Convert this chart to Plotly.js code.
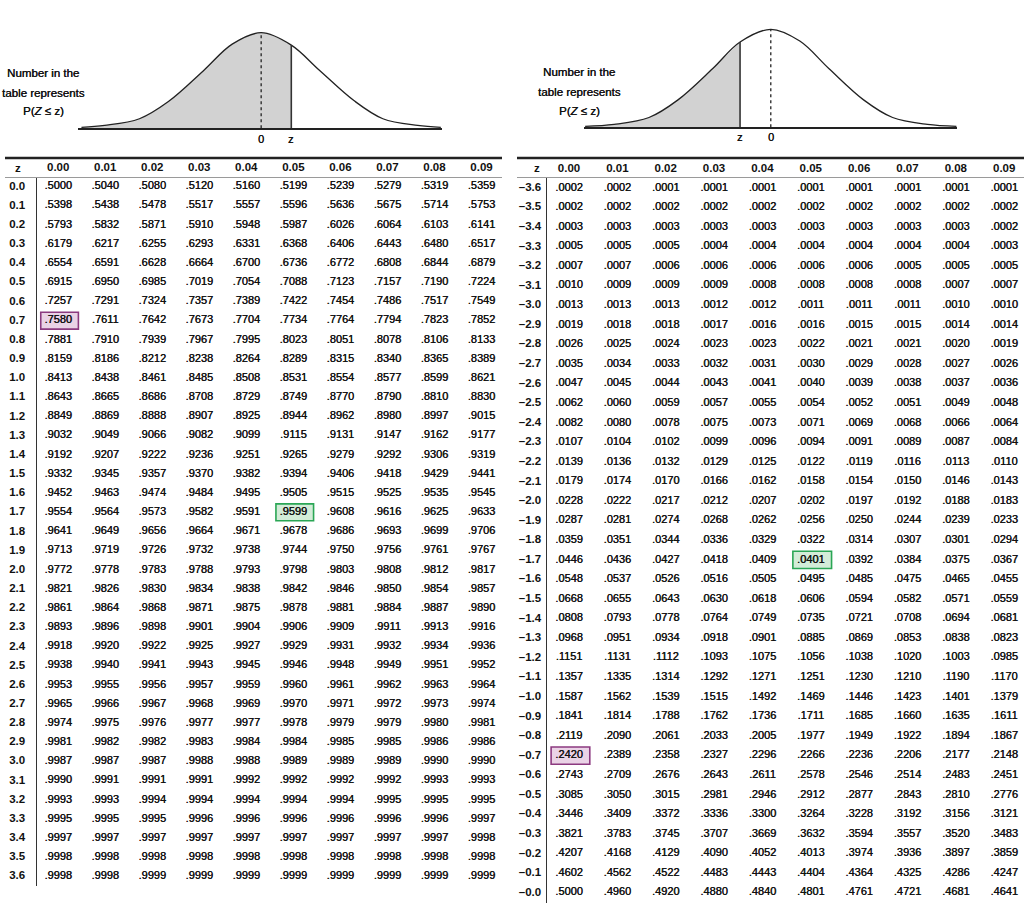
<!DOCTYPE html>
<html>
<head>
<meta charset="utf-8">
<script src="https://cdn.plot.ly/plotly-3.0.1.min.js"></script>
<style>html,body{margin:0;padding:0;background:#fff;}#chart{width:1024px;height:912px;}</style>
</head>
<body>
<div id="chart"></div>
<script>
// ---------- data ----------
const cols = ['0.00','0.01','0.02','0.03','0.04','0.05','0.06','0.07','0.08','0.09'];

const posRows = ['0.0','0.1','0.2','0.3','0.4','0.5','0.6','0.7','0.8','0.9',
  '1.0','1.1','1.2','1.3','1.4','1.5','1.6','1.7','1.8','1.9',
  '2.0','2.1','2.2','2.3','2.4','2.5','2.6','2.7','2.8','2.9',
  '3.0','3.1','3.2','3.3','3.4','3.5','3.6'];

const negRows = ['–3.6','–3.5','–3.4','–3.3','–3.2','–3.1','–3.0','–2.9','–2.8','–2.7',
  '–2.6','–2.5','–2.4','–2.3','–2.2','–2.1','–2.0','–1.9','–1.8','–1.7',
  '–1.6','–1.5','–1.4','–1.3','–1.2','–1.1','–1.0','–0.9','–0.8','–0.7',
  '–0.6','–0.5','–0.4','–0.3','–0.2','–0.1','–0.0'];

const posTable = [
  [.5000,.5040,.5080,.5120,.5160,.5199,.5239,.5279,.5319,.5359],
  [.5398,.5438,.5478,.5517,.5557,.5596,.5636,.5675,.5714,.5753],
  [.5793,.5832,.5871,.5910,.5948,.5987,.6026,.6064,.6103,.6141],
  [.6179,.6217,.6255,.6293,.6331,.6368,.6406,.6443,.6480,.6517],
  [.6554,.6591,.6628,.6664,.6700,.6736,.6772,.6808,.6844,.6879],
  [.6915,.6950,.6985,.7019,.7054,.7088,.7123,.7157,.7190,.7224],
  [.7257,.7291,.7324,.7357,.7389,.7422,.7454,.7486,.7517,.7549],
  [.7580,.7611,.7642,.7673,.7704,.7734,.7764,.7794,.7823,.7852],
  [.7881,.7910,.7939,.7967,.7995,.8023,.8051,.8078,.8106,.8133],
  [.8159,.8186,.8212,.8238,.8264,.8289,.8315,.8340,.8365,.8389],
  [.8413,.8438,.8461,.8485,.8508,.8531,.8554,.8577,.8599,.8621],
  [.8643,.8665,.8686,.8708,.8729,.8749,.8770,.8790,.8810,.8830],
  [.8849,.8869,.8888,.8907,.8925,.8944,.8962,.8980,.8997,.9015],
  [.9032,.9049,.9066,.9082,.9099,.9115,.9131,.9147,.9162,.9177],
  [.9192,.9207,.9222,.9236,.9251,.9265,.9279,.9292,.9306,.9319],
  [.9332,.9345,.9357,.9370,.9382,.9394,.9406,.9418,.9429,.9441],
  [.9452,.9463,.9474,.9484,.9495,.9505,.9515,.9525,.9535,.9545],
  [.9554,.9564,.9573,.9582,.9591,.9599,.9608,.9616,.9625,.9633],
  [.9641,.9649,.9656,.9664,.9671,.9678,.9686,.9693,.9699,.9706],
  [.9713,.9719,.9726,.9732,.9738,.9744,.9750,.9756,.9761,.9767],
  [.9772,.9778,.9783,.9788,.9793,.9798,.9803,.9808,.9812,.9817],
  [.9821,.9826,.9830,.9834,.9838,.9842,.9846,.9850,.9854,.9857],
  [.9861,.9864,.9868,.9871,.9875,.9878,.9881,.9884,.9887,.9890],
  [.9893,.9896,.9898,.9901,.9904,.9906,.9909,.9911,.9913,.9916],
  [.9918,.9920,.9922,.9925,.9927,.9929,.9931,.9932,.9934,.9936],
  [.9938,.9940,.9941,.9943,.9945,.9946,.9948,.9949,.9951,.9952],
  [.9953,.9955,.9956,.9957,.9959,.9960,.9961,.9962,.9963,.9964],
  [.9965,.9966,.9967,.9968,.9969,.9970,.9971,.9972,.9973,.9974],
  [.9974,.9975,.9976,.9977,.9977,.9978,.9979,.9979,.9980,.9981],
  [.9981,.9982,.9982,.9983,.9984,.9984,.9985,.9985,.9986,.9986],
  [.9987,.9987,.9987,.9988,.9988,.9989,.9989,.9989,.9990,.9990],
  [.9990,.9991,.9991,.9991,.9992,.9992,.9992,.9992,.9993,.9993],
  [.9993,.9993,.9994,.9994,.9994,.9994,.9994,.9995,.9995,.9995],
  [.9995,.9995,.9995,.9996,.9996,.9996,.9996,.9996,.9996,.9997],
  [.9997,.9997,.9997,.9997,.9997,.9997,.9997,.9997,.9997,.9998],
  [.9998,.9998,.9998,.9998,.9998,.9998,.9998,.9998,.9998,.9998],
  [.9998,.9998,.9999,.9999,.9999,.9999,.9999,.9999,.9999,.9999]
];

const negTable = [
  [.0002,.0002,.0001,.0001,.0001,.0001,.0001,.0001,.0001,.0001],
  [.0002,.0002,.0002,.0002,.0002,.0002,.0002,.0002,.0002,.0002],
  [.0003,.0003,.0003,.0003,.0003,.0003,.0003,.0003,.0003,.0002],
  [.0005,.0005,.0005,.0004,.0004,.0004,.0004,.0004,.0004,.0003],
  [.0007,.0007,.0006,.0006,.0006,.0006,.0006,.0005,.0005,.0005],
  [.0010,.0009,.0009,.0009,.0008,.0008,.0008,.0008,.0007,.0007],
  [.0013,.0013,.0013,.0012,.0012,.0011,.0011,.0011,.0010,.0010],
  [.0019,.0018,.0018,.0017,.0016,.0016,.0015,.0015,.0014,.0014],
  [.0026,.0025,.0024,.0023,.0023,.0022,.0021,.0021,.0020,.0019],
  [.0035,.0034,.0033,.0032,.0031,.0030,.0029,.0028,.0027,.0026],
  [.0047,.0045,.0044,.0043,.0041,.0040,.0039,.0038,.0037,.0036],
  [.0062,.0060,.0059,.0057,.0055,.0054,.0052,.0051,.0049,.0048],
  [.0082,.0080,.0078,.0075,.0073,.0071,.0069,.0068,.0066,.0064],
  [.0107,.0104,.0102,.0099,.0096,.0094,.0091,.0089,.0087,.0084],
  [.0139,.0136,.0132,.0129,.0125,.0122,.0119,.0116,.0113,.0110],
  [.0179,.0174,.0170,.0166,.0162,.0158,.0154,.0150,.0146,.0143],
  [.0228,.0222,.0217,.0212,.0207,.0202,.0197,.0192,.0188,.0183],
  [.0287,.0281,.0274,.0268,.0262,.0256,.0250,.0244,.0239,.0233],
  [.0359,.0351,.0344,.0336,.0329,.0322,.0314,.0307,.0301,.0294],
  [.0446,.0436,.0427,.0418,.0409,.0401,.0392,.0384,.0375,.0367],
  [.0548,.0537,.0526,.0516,.0505,.0495,.0485,.0475,.0465,.0455],
  [.0668,.0655,.0643,.0630,.0618,.0606,.0594,.0582,.0571,.0559],
  [.0808,.0793,.0778,.0764,.0749,.0735,.0721,.0708,.0694,.0681],
  [.0968,.0951,.0934,.0918,.0901,.0885,.0869,.0853,.0838,.0823],
  [.1151,.1131,.1112,.1093,.1075,.1056,.1038,.1020,.1003,.0985],
  [.1357,.1335,.1314,.1292,.1271,.1251,.1230,.1210,.1190,.1170],
  [.1587,.1562,.1539,.1515,.1492,.1469,.1446,.1423,.1401,.1379],
  [.1841,.1814,.1788,.1762,.1736,.1711,.1685,.1660,.1635,.1611],
  [.2119,.2090,.2061,.2033,.2005,.1977,.1949,.1922,.1894,.1867],
  [.2420,.2389,.2358,.2327,.2296,.2266,.2236,.2206,.2177,.2148],
  [.2743,.2709,.2676,.2643,.2611,.2578,.2546,.2514,.2483,.2451],
  [.3085,.3050,.3015,.2981,.2946,.2912,.2877,.2843,.2810,.2776],
  [.3446,.3409,.3372,.3336,.3300,.3264,.3228,.3192,.3156,.3121],
  [.3821,.3783,.3745,.3707,.3669,.3632,.3594,.3557,.3520,.3483],
  [.4207,.4168,.4129,.4090,.4052,.4013,.3974,.3936,.3897,.3859],
  [.4602,.4562,.4522,.4483,.4443,.4404,.4364,.4325,.4286,.4247],
  [.5000,.4960,.4920,.4880,.4840,.4801,.4761,.4721,.4681,.4641]
];

// highlighted cells
const highlights = [
  {table: 'pos', row: '0.7',  col: '0.00', kind: 'purple'},
  {table: 'pos', row: '1.7',  col: '0.05', kind: 'green'},
  {table: 'neg', row: '–1.7', col: '0.05', kind: 'green'},
  {table: 'neg', row: '–0.7', col: '0.00', kind: 'purple'}
];

// bell curves (z units, height relative to peak)
const curveLeftZ  = [-3.1, -2.7, -2.1, -1.6, -1.0, -0.5, 0, 0.52, 1.0, 1.6, 2.1, 2.7, 3.1];
const curveLeftH  = [0.01, 0.03, 0.10, 0.28, 0.60, 0.88, 1.0, 0.87, 0.61, 0.29, 0.10, 0.03, 0.01];
const zLeft = 0.52;
const curveRightZ = [-3.2, -2.7, -2.1, -1.6, -1.0, -0.53, 0, 0.5, 1.0, 1.6, 2.1, 2.7, 3.2];
const curveRightH = [0.01, 0.03, 0.10, 0.28, 0.60, 0.87, 1.0, 0.88, 0.60, 0.28, 0.10, 0.03, 0.01];
const zRight = -0.53;

// ---------- build ----------
const FONT = '"Liberation Sans", Arial, sans-serif';
const INK = '#111111';
const HEAVY = '0.35px 0 0 #111111';
const fmt = v => v.toFixed(4).replace(/^0/, '');

function cellTrace(rows, table, xa, ya) {
  const x = [], y = [], t = [];
  rows.forEach((r, i) => cols.forEach((c, j) => { x.push(c); y.push(r); t.push(fmt(table[i][j])); }));
  return {type: 'scatter', mode: 'text', x, y, text: t, xaxis: xa, yaxis: ya,
    textposition: 'middle center', cliponaxis: false, hoverinfo: 'skip', showlegend: false,
    textfont: {family: FONT, size: 11, color: INK, shadow: HEAVY}};
}

function curveTraces(zs, hs, zc, xa, ya) {
  const shadeX = [], shadeY = [];
  zs.forEach((z, i) => { if (z <= zc + 1e-9) { shadeX.push(z); shadeY.push(hs[i]); } });
  const hc = hs[zs.indexOf(zc)];
  return [
    {type: 'scatter', mode: 'lines', x: shadeX, y: shadeY, xaxis: xa, yaxis: ya, fill: 'tozeroy',
      fillcolor: '#d2d2d2', line: {width: 0, shape: 'spline', smoothing: 1}, hoverinfo: 'skip', showlegend: false},
    {type: 'scatter', mode: 'lines', x: zs, y: hs, xaxis: xa, yaxis: ya, cliponaxis: false,
      line: {color: '#222', width: 1.3, shape: 'spline', smoothing: 1}, hoverinfo: 'skip', showlegend: false},
    {type: 'scatter', mode: 'lines', x: [0, 0], y: [0, 1], xaxis: xa, yaxis: ya, cliponaxis: false,
      line: {color: '#222', width: 1.3, dash: '3px,3px'}, hoverinfo: 'skip', showlegend: false},
    {type: 'scatter', mode: 'lines', x: [zc, zc], y: [0, hc], xaxis: xa, yaxis: ya, cliponaxis: false,
      line: {color: '#333', width: 1.6}, hoverinfo: 'skip', showlegend: false}
  ];
}

const data = [
  cellTrace(posRows, posTable, 'x', 'y'),
  cellTrace(negRows, negTable, 'x2', 'y2'),
  ...curveTraces(curveLeftZ, curveLeftH, zLeft, 'x3', 'y3'),
  ...curveTraces(curveRightZ, curveRightH, zRight, 'x4', 'y4')
];

const W = 1024, H = 912;
const px = v => v / W, py = v => 1 - v / H;

const tableX = (dom, range) => ({type: 'category', categoryarray: cols, categoryorder: 'array',
  domain: dom, range: range, side: 'top', showgrid: false, zeroline: false, showline: false,
  ticks: '', fixedrange: true, ticklabelstandoff: 3,
  tickfont: {family: FONT, size: 11.5, color: INK, weight: 'bold'}});
const tableY = (rows, dom, standoff) => ({type: 'category', categoryarray: rows, categoryorder: 'array',
  domain: dom, range: [rows.length - 0.5, -0.5], showgrid: false, zeroline: false,
  showline: true, linecolor: '#333', linewidth: 1.5, ticks: '', ticklabelstandoff: standoff,
  ticklabelshift: 1,
  fixedrange: true, tickfont: {family: FONT, size: 11.5, color: INK, weight: 'bold'}});
const curveX = (dom, range) => ({domain: dom, range: range, showgrid: false, zeroline: false,
  showline: true, linecolor: '#222', linewidth: 1.3, showticklabels: false, ticks: '', fixedrange: true});
const curveY = (dom) => ({domain: dom, range: [0, 1.05], visible: false, fixedrange: true});

const shapes = [];
// header rules
[[5, 502], [517, 1024]].forEach(([a, b]) => {
  shapes.push({type: 'line', xref: 'paper', yref: 'paper', x0: px(a), x1: px(b), y0: py(158), y1: py(158),
    line: {color: '#222', width: 2.5}});
  shapes.push({type: 'line', xref: 'paper', yref: 'paper', x0: px(a), x1: px(b), y0: py(177.5), y1: py(177.5),
    line: {color: '#9a9a9a', width: 1}});
});
// highlight boxes
const hlStyle = {purple: {fill: '#ead3e6', line: '#8c3a80'}, green: {fill: '#d3ecd8', line: '#2aa655'}};
highlights.forEach(h => {
  const rows = h.table === 'pos' ? posRows : negRows;
  const ci = cols.indexOf(h.col), ri = rows.indexOf(h.row);
  const st = hlStyle[h.kind];
  shapes.push({type: 'rect', layer: 'below', xref: h.table === 'pos' ? 'x' : 'x2', yref: h.table === 'pos' ? 'y' : 'y2',
    x0: ci - 0.37, x1: ci + 0.43, y0: ri - 0.44, y1: ri + 0.44,
    fillcolor: st.fill, line: {color: st.line, width: 1.6}});
});

const annFont = {family: FONT, size: 11.5, color: INK, shadow: HEAVY};
const annotations = [];
const addNote = (cx, ys) => {
  const lines = ['Number in the', 'table represents', 'P(<i>Z</i> ≤ z)'];
  lines.forEach((t, i) => annotations.push({xref: 'paper', yref: 'paper', x: px(cx), y: py(ys[i]),
    text: t, showarrow: false, xanchor: 'center', yanchor: 'middle', font: annFont}));
};
addNote(43, [73, 93, 111]);
addNote(579, [72, 92, 111]);
// curve labels
[['x3', 0, '0', 139], ['x3', zLeft, 'z', 139], ['x4', 0, '0', 137], ['x4', zRight, 'z', 137]].forEach(([xr, x, t, y]) =>
  annotations.push({xref: xr, yref: 'paper', x: x, y: py(y), text: t, showarrow: false,
    xanchor: 'center', yanchor: 'middle', font: {family: FONT, size: 11, color: INK, shadow: HEAVY}}));
// header "z"
[[18, 168], [537, 168]].forEach(([x, y]) => annotations.push({xref: 'paper', yref: 'paper', x: px(x), y: py(y),
  text: '<b>z</b>', showarrow: false, xanchor: 'center', yanchor: 'middle', font: {family: FONT, size: 11.5, color: INK}}));

const layout = {
  width: W, height: H, margin: {l: 0, r: 0, t: 0, b: 0},
  paper_bgcolor: '#fff', plot_bgcolor: 'rgba(0,0,0,0)', showlegend: false,
  font: {family: FONT, color: INK},
  xaxis:  Object.assign(tableX([px(37), px(505)], [-0.45, 9.5]), {anchor: 'y'}),
  yaxis:  Object.assign(tableY(posRows, [py(886), py(177)], 8), {anchor: 'x'}),
  xaxis2: Object.assign(tableX([px(547), 1], [-0.455, 9.41]), {anchor: 'y2'}),
  yaxis2: Object.assign(tableY(negRows, [py(902.5), py(178)], 2), {anchor: 'x2'}),
  xaxis3: Object.assign(curveX([px(78), px(442)], [-3.16, 3.12]), {anchor: 'y3'}),
  yaxis3: Object.assign(curveY([py(128.3), py(128.3 - 1.05 * 95.6)]), {anchor: 'x3'}),
  xaxis4: Object.assign(curveX([px(584), px(957)], [-3.22, 3.21]), {anchor: 'y4'}),
  yaxis4: Object.assign(curveY([py(127.3), py(127.3 - 1.05 * 98)]), {anchor: 'x4'}),
  shapes, annotations
};

Plotly.newPlot('chart', data, layout, {displayModeBar: false, staticPlot: true});
</script>
</body>
</html>
